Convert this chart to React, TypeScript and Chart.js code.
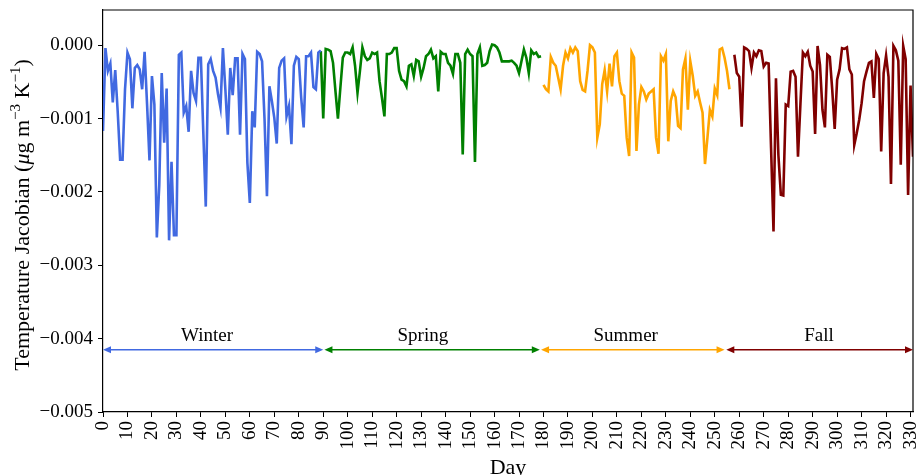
import React, { useEffect, useRef } from "react";
import { Chart, registerables } from "chart.js";

Chart.register(...registerables);

const FONT = "'Liberation Serif', 'Times New Roman', serif";

// Series (daily values)
const winterStart = 0;
const winterValues = [
  -0.00117, -0.00004, -0.00035, -0.00025, -0.00078, -0.00034, -0.0009, -0.00156, -0.00156, -0.0006,
  -0.0001, -0.00019, -0.00086, -0.00031, -0.00027, -0.00033, -0.0006, -0.00009, -0.0008, -0.00157,
  -0.00042, -0.00081, -0.00262, -0.0019, -0.00038, -0.00133, -0.00059, -0.00266, -0.00159, -0.00259,
  -0.00259, -0.00013, -0.0001, -0.00092, -0.00083, -0.00118, -0.00035, -0.00065, -0.00076, -0.00017,
  -0.00017, -0.0012, -0.0022, -0.00026, -0.00019, -0.00035, -0.00044, -0.00067, -0.00085, -0.00004,
  -0.0006, -0.00122, -0.00031, -0.00068, -0.00018, -0.00018, -0.00122, -0.00012, -0.00019, -0.0016,
  -0.00215, -0.0009, -0.00112, -0.00009, -0.00012, -0.00022, -0.001, -0.00206, -0.00056, -0.00076,
  -0.00099, -0.00134, -0.00031, -0.00021, -0.00018, -0.00097, -0.00083, -0.00135, -0.00028, -0.00016,
  -0.00019, -0.00072, -0.00112, -0.00015, -0.00015, -0.0001, -0.00057, -0.0006, -0.0001, -0.00007,
];

const springStart = 89;
const springValues = [
  -0.00008, -0.001, -0.00005, -0.00006, -0.00008, -0.00024, -0.00063, -0.001, -0.00058, -0.00017,
  -0.0001, -0.0001, -0.00012, -0.00003, -0.00028, -0.00065, -0.00035, -0.00003, -0.00015, -0.0002,
  -0.00018, -0.0001, -0.00012, -0.0001, -0.00049, -0.00072, -0.00097, -0.00012, -0.00012, -0.0001,
  -0.00004, -0.00004, -0.00035, -0.00047, -0.00049, -0.00056, -0.00028, -0.00026, -0.00042, -0.0002,
  -0.00022, -0.00043, -0.00031, -0.00015, -0.00012, -0.00006, -0.00018, -0.00015, -0.00063, -0.00009,
  -0.00012, -0.00012, -0.00024, -0.00028, -0.00039, -0.00012, -0.00012, -0.00024, -0.00149, -0.00012,
  -0.00006, -0.00012, -0.00015, -0.00159, -0.00012, -0.00003, -0.00028, -0.00027, -0.00024, -0.00008,
  0.00001, 0.0, -0.00003, -0.0001, -0.00022, -0.00022, -0.00022, -0.00022, -0.00021, -0.00024,
  -0.00028, -0.00038, -0.00022, -0.00006, -0.00017, -0.00038, -0.00007, -0.00012, -0.0001, -0.00016,
  -0.00015,
];

const summerStart = 180;
const summerValues = [
  -0.00054, -0.0006, -0.00063, -0.00016, -0.00024, -0.00028, -0.00044, -0.0006, -0.00028, -0.0001,
  -0.00018, -0.00004, -0.0001, -0.00003, -0.00008, -0.00049, -0.00061, -0.00063, -0.00035, 0.0,
  -0.00003, -0.0001, -0.00126, -0.00108, -0.00053, -0.00034, -0.00063, -0.00025, -0.00056, -0.00015,
  -0.0001, -0.00049, -0.00066, -0.00069, -0.00126, -0.00151, -0.0001, -0.00017, -0.00144, -0.00081,
  -0.00057, -0.00063, -0.00074, -0.00066, -0.00063, -0.0006, -0.00126, -0.00148, -0.00015, -0.00021,
  -0.00012, -0.00131, -0.00076, -0.00063, -0.00071, -0.0011, -0.00113, -0.00033, -0.00018, -0.00088,
  -0.00022, -0.00042, -0.00069, -0.00063, -0.00078, -0.00092, -0.00162, -0.00126, -0.00088, -0.00097,
  -0.00059, -0.00068, -0.00006, -0.00004, -0.00017, -0.00035, -0.0006,
];

const fallStart = 258;
const fallValues = [
  -0.00013, -0.00038, -0.00043, -0.00111, -0.00003, -0.00005, -0.00008, -0.00031, -0.0001, -0.00015,
  -0.00007, -0.00008, -0.00029, -0.00024, -0.00025, -0.0014, -0.00254, -0.00045, -0.0015, -0.00204,
  -0.00205, -0.00081, -0.00083, -0.00036, -0.00035, -0.00043, -0.00152, -0.0008, -0.0001, -0.00015,
  -0.00009, -0.00028, -0.00036, -0.00121, -0.00001, -0.00027, -0.00088, -0.00112, -0.00013, -0.00016,
  -0.00061, -0.00114, -0.00047, -0.00033, -0.00004, -0.00005, -0.00003, -0.00033, -0.0004, -0.00136,
  -0.0012, -0.00102, -0.00079, -0.00049, -0.00036, -0.00024, -0.00022, -0.00072, -0.00012, -0.00019,
  -0.00145, -0.00038, -0.00014, -0.00043, -0.00189, -0.00001, -0.00007, -0.00021, -0.00163, -0.00001,
  -0.00019, -0.00204, -0.00055, -0.00152,
];

// Seasons annotation
const seasonNames = ["Winter", "Spring", "Summer", "Fall"];
const seasonColors = ["#4169E1", "#008000", "#FFA500", "#800000"];
const arrowStart = [0, 90.5, 179, 254.7];
const arrowEnd = [90, 178.5, 254, 331];
const arrowY = -0.00415;
const labelDays = [42.5, 130.7, 213.6, 292.6];
const labelY = -0.00396;

// Axes
const xTicks = [0, 10, 20, 30, 40, 50, 60, 70, 80, 90, 100, 110, 120, 130, 140, 150, 160, 170, 180, 190, 200, 210, 220, 230, 240, 250, 260, 270, 280, 290, 300, 310, 320, 330];
const yTicks = [-0.005, -0.004, -0.003, -0.002, -0.001, 0.0];
const xMin = 0;
const xMax = 331;
const yMin = -0.005;
const yMax = 0.00048;
const xLabel = "Day";

const toPoints = (start: number, vals: number[]) => vals.map((v, i) => ({ x: start + i, y: v }));

const annotationPlugin = {
  id: "annotations",
  afterDraw(chart: any) {
    const ctx = chart.ctx;
    const { left, right, top, bottom } = chart.chartArea;
    const xs = chart.scales.x;
    const ys = chart.scales.y;
    ctx.save();
    // top & right spines
    ctx.strokeStyle = "#000";
    ctx.lineWidth = 1.2;
    ctx.beginPath();
    ctx.moveTo(left, top);
    ctx.lineTo(right, top);
    ctx.lineTo(right, bottom);
    ctx.stroke();

    // arrows
    const headL = 8;
    const headW = 3.5;
    for (let i = 0; i < seasonNames.length; i++) {
      const x1 = xs.getPixelForValue(arrowStart[i]);
      const x2 = xs.getPixelForValue(arrowEnd[i]);
      const y = ys.getPixelForValue(arrowY);
      ctx.strokeStyle = seasonColors[i];
      ctx.fillStyle = seasonColors[i];
      ctx.lineWidth = 1.5;
      ctx.beginPath();
      ctx.moveTo(x1 + headL - 1, y);
      ctx.lineTo(x2 - headL + 1, y);
      ctx.stroke();
      ctx.beginPath();
      ctx.moveTo(x1, y);
      ctx.lineTo(x1 + headL, y - headW);
      ctx.lineTo(x1 + headL, y + headW);
      ctx.closePath();
      ctx.fill();
      ctx.beginPath();
      ctx.moveTo(x2, y);
      ctx.lineTo(x2 - headL, y - headW);
      ctx.lineTo(x2 - headL, y + headW);
      ctx.closePath();
      ctx.fill();
      // label
      ctx.fillStyle = "#000";
      ctx.font = `19px ${FONT}`;
      ctx.textAlign = "center";
      ctx.textBaseline = "middle";
      ctx.fillText(seasonNames[i], xs.getPixelForValue(labelDays[i]), ys.getPixelForValue(labelY));
    }

    // x axis title
    ctx.fillStyle = "#000";
    ctx.font = `22px ${FONT}`;
    ctx.textAlign = "center";
    ctx.textBaseline = "middle";
    ctx.fillText(xLabel, (left + right) / 2, 468);

    // y axis title with rich text
    const segs = [
      { t: "Temperature Jacobian (", style: "", sup: false },
      { t: "\u03bc", style: "italic ", sup: false },
      { t: "g m", style: "", sup: false },
      { t: "\u22123", style: "", sup: true },
      { t: " K", style: "", sup: false },
      { t: "\u22121", style: "", sup: true },
      { t: ")", style: "", sup: false },
    ];
    const fontFor = (s: any) => `${s.style}${s.sup ? 15 : 22}px ${FONT}`;
    let total = 0;
    for (const s of segs) {
      ctx.font = fontFor(s);
      total += ctx.measureText(s.t).width;
    }
    ctx.translate(23, 215);
    ctx.rotate(-Math.PI / 2);
    ctx.textAlign = "left";
    ctx.textBaseline = "middle";
    let cx = -total / 2;
    for (const s of segs) {
      ctx.font = fontFor(s);
      ctx.fillText(s.t, cx, s.sup ? -7 : 0);
      cx += ctx.measureText(s.t).width;
    }
    ctx.restore();
  },
};

const fmtY = (v: number) => {
  const a = Math.abs(v).toFixed(3);
  return v < -1e-9 ? "\u2212" + a : a;
};

export default function App() {
  const ref = useRef<HTMLCanvasElement | null>(null);
  useEffect(() => {
    document.body.style.margin = "0";
    const canvas = ref.current;
    if (!canvas) return;
    const mk = (label: string, start: number, vals: number[], color: string) => ({
      label,
      data: toPoints(start, vals),
      borderColor: color,
      backgroundColor: color,
      borderWidth: 2.6,
      pointRadius: 0,
      tension: 0,
      fill: false,
    });
    const chart = new Chart(canvas, {
      type: "line",
      data: {
        datasets: [
          mk(seasonNames[0], winterStart, winterValues, seasonColors[0]),
          mk(seasonNames[1], springStart, springValues, seasonColors[1]),
          mk(seasonNames[2], summerStart, summerValues, seasonColors[2]),
          mk(seasonNames[3], fallStart, fallValues, seasonColors[3]),
        ],
      },
      options: {
        animation: false,
        responsive: false,
        devicePixelRatio: 1,
        layout: { padding: { top: 10, right: 3, left: 0, bottom: 0 } },
        plugins: { legend: { display: false }, tooltip: { enabled: false } },
        scales: {
          x: {
            type: "linear",
            min: xMin,
            max: xMax,
            afterBuildTicks: (s: any) => {
              s.ticks = xTicks.map((v) => ({ value: v }));
            },
            afterFit: (s: any) => {
              s.height = 63;
              s.paddingLeft = 0;
              s.paddingRight = 0;
            },
            grid: { display: true, drawOnChartArea: false, drawTicks: true, tickLength: 5, color: "#000", lineWidth: 1 },
            border: { display: true, color: "#000", width: 1.2 },
            ticks: {
              autoSkip: false,
              minRotation: 90,
              maxRotation: 90,
              padding: 4,
              color: "#000",
              font: { family: FONT, size: 19 },
              callback: (v: any) => String(v),
            },
          },
          y: {
            type: "linear",
            min: yMin,
            max: yMax,
            afterBuildTicks: (s: any) => {
              s.ticks = yTicks.map((v) => ({ value: v }));
            },
            afterFit: (s: any) => {
              s.width = 103;
              s.paddingTop = 0;
              s.paddingBottom = 0;
            },
            grid: { display: true, drawOnChartArea: false, drawTicks: true, tickLength: 5, color: "#000", lineWidth: 1 },
            border: { display: true, color: "#000", width: 1.2 },
            ticks: {
              padding: 5,
              color: "#000",
              font: { family: FONT, size: 19 },
              callback: (v: any) => fmtY(Number(v)),
            },
          },
        },
      },
      plugins: [annotationPlugin],
    } as any);
    return () => chart.destroy();
  }, []);
  return (
    <div style={{ width: 916, height: 475 }}>
      <canvas ref={ref} width={916} height={475} style={{ width: 916, height: 475, display: "block" }} />
    </div>
  );
}
